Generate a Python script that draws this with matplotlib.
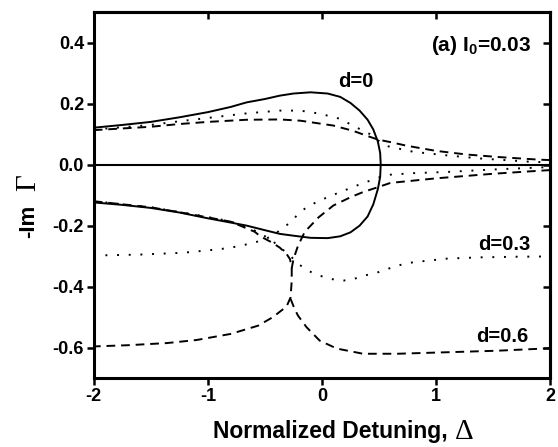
import matplotlib
matplotlib.use("Agg")
import matplotlib.pyplot as plt

plt.rcParams["font.family"] = "Liberation Sans"
plt.rcParams["font.weight"] = "bold"
plt.rcParams["axes.labelweight"] = "bold"
plt.rcParams["mathtext.fontset"] = "custom"
plt.rcParams["mathtext.rm"] = "Liberation Serif:normal"
plt.rcParams["mathtext.bf"] = "Liberation Sans:bold"

# d = 0 (solid), one loop from the upper-left round to the lower-left
d0_x = [-2, -1.75, -1.5, -1.25, -1.0, -0.8, -0.66, -0.5, -0.37, -0.25, -0.1, 0.05,
        0.16, 0.25, 0.33, 0.40, 0.45, 0.49, 0.51, 0.515,
        0.51, 0.49, 0.45, 0.40, 0.33, 0.25, 0.16, 0.05, -0.1, -0.25, -0.37, -0.5,
        -0.66, -0.8, -1.0, -1.25, -1.5, -1.75, -2]
d0_y = [0.121, 0.13, 0.14, 0.155, 0.172, 0.189, 0.204, 0.215, 0.226, 0.233, 0.237, 0.233,
        0.222, 0.202, 0.177, 0.147, 0.115, 0.075, 0.038, 0.0,
        -0.04, -0.08, -0.13, -0.17, -0.2, -0.222, -0.235, -0.241, -0.24, -0.233, -0.227, -0.215,
        -0.2, -0.19, -0.176, -0.157, -0.142, -0.132, -0.124]

# d = 0.3 (dotted)
d3_up_x = [-2, -1.5, -1.25, -1.0, -0.66, -0.37, -0.19, -0.02, 0.16, 0.27, 0.42, 0.48,
           0.58, 0.8, 1.1, 1.39, 1.8, 2]
d3_up_y = [0.115, 0.13, 0.142, 0.153, 0.168, 0.177, 0.177, 0.167, 0.15, 0.128, 0.1, 0.082,
           0.06, 0.042, 0.03, 0.02, 0.01, 0.007]
d3_loA_x = [-2, -1.5, -1.25, -1.0, -0.8, -0.6, -0.45, -0.35, -0.28, -0.21, -0.12, -0.05,
            0.03, 0.12, 0.19, 0.27, 0.36, 0.5, 0.66, 0.8, 1.1, 1.39, 1.7, 2]
d3_loA_y = [-0.12, -0.14, -0.155, -0.172, -0.186, -0.214, -0.245, -0.277, -0.298, -0.325,
            -0.348, -0.36, -0.37, -0.378, -0.38, -0.376, -0.365, -0.352, -0.331, -0.32,
            -0.308, -0.304, -0.302, -0.301]
d3_loB_x = [-2, -1.6, -1.22, -0.89, -0.72, -0.57, -0.46, -0.37, -0.28, -0.21, -0.13, 0.01,
            0.16, 0.33, 0.5, 0.6, 0.8, 1.1, 1.5, 2]
d3_loB_y = [-0.298, -0.295, -0.289, -0.277, -0.267, -0.253, -0.238, -0.216, -0.19, -0.163,
            -0.138, -0.113, -0.09, -0.065, -0.042, -0.033, -0.028, -0.024, -0.016, -0.008]

# d = 0.6 (dashed)
d6_up_x = [-2, -1.5, -1.25, -1.0, -0.66, -0.37, -0.19, 0.1, 0.27, 0.39, 0.49, 0.61,
           0.74, 1.0, 1.27, 1.54, 1.91, 2]
d6_up_y = [0.113, 0.124, 0.133, 0.14, 0.147, 0.148, 0.144, 0.128, 0.111, 0.095, 0.082, 0.073,
           0.062, 0.045, 0.033, 0.025, 0.016, 0.015]
d6_left_x = [-2, -1.5, -1.25, -1.0, -0.8, -0.59, -0.54, -0.44, -0.37, -0.31, -0.28,
             -0.265, -0.265, -0.275, -0.31, -0.43, -0.56, -0.8, -1.1, -1.36, -1.7, -2]
d6_left_y = [-0.12, -0.14, -0.156, -0.173, -0.187, -0.22, -0.235, -0.255, -0.272, -0.293, -0.31,
             -0.34, -0.38, -0.435, -0.465, -0.5, -0.528, -0.555, -0.575, -0.585, -0.592, -0.596]
d6_rtop_x = [2, 1.91, 1.5, 1.0, 0.6, 0.49, 0.36, 0.25, 0.1, -0.03, -0.15, -0.21, -0.25, -0.265]
d6_rtop_y = [-0.018, -0.02, -0.03, -0.045, -0.06, -0.074, -0.09, -0.107, -0.134, -0.173,
             -0.22, -0.266, -0.31, -0.34]
d6_rbot_x = [-0.275, -0.24, -0.21, -0.135, -0.02, 0.13, 0.36, 0.66, 1.1, 1.54, 2]
d6_rbot_y = [-0.44, -0.473, -0.495, -0.533, -0.577, -0.603, -0.62, -0.62, -0.615, -0.61, -0.602]

xticks = [-2, -1, 0, 1, 2]
xticklabels = ["-2", "-1", "0", "1", "2"]
yticks = [-0.6, -0.4, -0.2, 0.0, 0.2, 0.4]
yticklabels = ["-0.6", "-0.4", "-0.2", "0.0", "0.2", "0.4"]

fig = plt.figure(figsize=(5.58, 4.47), dpi=100)
ax = fig.add_axes([0.168, 0.154, 0.818, 0.819])

lw = 1.4
dotted = (0, (1, 5))
dashed = (0, (4.5, 3))

ax.axhline(0, color="black", lw=1.5)
ax.plot(d0_x, d0_y, color="black", lw=lw)
for xs, ys in [(d3_up_x, d3_up_y), (d3_loA_x, d3_loA_y), (d3_loB_x, d3_loB_y)]:
    ax.plot(xs, ys, color="black", lw=lw, linestyle=dotted)
for xs, ys in [(d6_up_x, d6_up_y), (d6_left_x, d6_left_y),
               (d6_rtop_x, d6_rtop_y), (d6_rbot_x, d6_rbot_y)]:
    ax.plot(xs, ys, color="black", lw=lw, linestyle=dashed)

ax.set_xlim(-2, 2)
ax.set_ylim(-0.7, 0.5)
ax.set_xticks(xticks)
ax.set_xticklabels(xticklabels)
ax.set_yticks(yticks)
ax.set_yticklabels(yticklabels)

for s in ax.spines.values():
    s.set_linewidth(2.2)
ax.tick_params(axis="both", which="major", direction="out", length=5, width=1.8,
               labelsize=13, pad=2)

# inward ticks on top and right, no labels
top = ax.secondary_xaxis("top")
top.set_xticks(xticks)
top.tick_params(direction="in", length=5, width=1.8, labeltop=False)
right = ax.secondary_yaxis("right")
right.set_yticks(yticks)
right.tick_params(direction="in", length=5, width=1.8, labelright=False)
for sec in (top, right):
    for s in sec.spines.values():
        s.set_linewidth(2.2)

# axis titles: sans bold words with a larger, thin serif Greek letter
fig.text(0.592, 0.034, "Normalized Detuning,", fontsize=16.5, fontweight="bold",
         ha="center", va="center")
fig.text(0.832, 0.036, r"$\mathrm{\Delta}$", fontsize=21, ha="center", va="center")

fig.text(0.052, 0.505, "-Im", rotation=90, fontsize=16, fontweight="bold",
         ha="center", va="center")
fig.text(0.05, 0.59, r"$\mathrm{\Gamma}$", rotation=90, fontsize=21,
         ha="center", va="center")

ax.text(1.83, 0.39, r"(a) I$_{\mathbf{0}}$=0.03", fontsize=15, ha="right", va="center")
ax.text(0.3, 0.272, "d=0", fontsize=14.5, ha="center", va="center")
ax.text(1.6, -0.262, "d=0.3", fontsize=14.5, ha="center", va="center")
ax.text(1.58, -0.564, "d=0.6", fontsize=14.5, ha="center", va="center")

fig.savefig("out.png", dpi=100)
